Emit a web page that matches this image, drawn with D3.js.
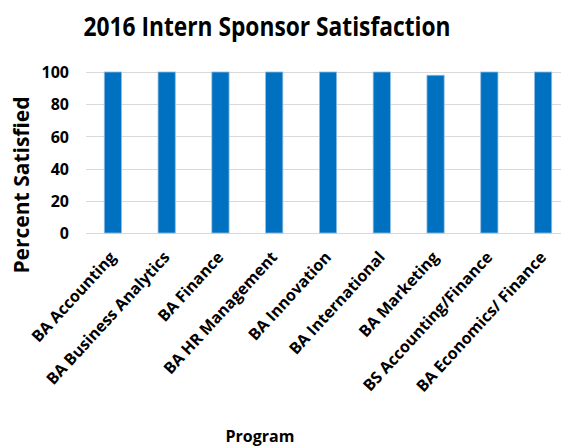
<!DOCTYPE html>
<html>
<head>
<meta charset="utf-8">
<script src="https://cdn.jsdelivr.net/npm/d3@7"></script>
<style>
  body { margin: 0; background: #fff; }
  svg { display: block; font-family: 'Open Sans', 'Liberation Sans', sans-serif; }
</style>
</head>
<body>
<div id="chart"></div>
<script>
var programs = ['BA Accounting', 'BA Business Analytics', 'BA Finance', 'BA HR Management',
    'BA Innovation', 'BA International', 'BA Marketing', 'BS Accounting/Finance', 'BA Economics/ Finance'];
var satisfied = [100, 100, 100, 100, 100, 100, 98, 100, 100];
var yTicks = [0, 20, 40, 60, 80, 100];

var width = 561, height = 447;
var margin = {left: 86, right: 0, top: 72, bottom: 214};

var svg = d3.select('#chart')
    .append('svg')
    .attr('width', width)
    .attr('height', height);

var x = d3.scaleBand()
    .domain(programs)
    .range([margin.left, 570])
    .paddingInner(0.68)
    .paddingOuter(0.34);

var y = d3.scaleLinear()
    .domain([0, 100])
    .range([233, 72]);

// gridlines
svg.append('g')
    .selectAll('line')
    .data(yTicks)
    .enter()
    .append('line')
    .attr('x1', margin.left)
    .attr('x2', width)
    .attr('y1', function(d) { return Math.round(y(d)) + 0.5; })
    .attr('y2', function(d) { return Math.round(y(d)) + 0.5; })
    .attr('stroke', '#d9d9d9')
    .attr('stroke-width', 1.2);

// bars
svg.append('g')
    .selectAll('rect')
    .data(programs)
    .enter()
    .append('rect')
    .attr('x', function(d) { return x(d); })
    .attr('y', function(d, i) { return y(satisfied[i]); })
    .attr('width', x.bandwidth())
    .attr('height', function(d, i) { return y(0) - y(satisfied[i]); })
    .attr('fill', '#0070c0')
    .attr('stroke', '#8fbde3')
    .attr('stroke-width', 0.8);

// y axis
var yAxis = d3.axisLeft(y)
    .tickValues(yTicks)
    .tickSize(0)
    .tickPadding(0);

svg.append('g')
    .attr('transform', 'translate(69,0)')
    .call(yAxis)
    .call(function(g) { g.select('.domain').remove(); })
    .selectAll('text')
    .attr('font-family', 'Open Sans, sans-serif')
    .attr('font-size', 16)
    .attr('font-weight', 'bold')
    .attr('fill', '#000')
    .attr('dy', '0.35em');

// x labels, rotated
svg.append('g')
    .selectAll('text')
    .data(programs)
    .enter()
    .append('text')
    .attr('transform', function(d) {
        return 'translate(' + (x(d) + x.bandwidth() / 2 + 4) + ',258) rotate(-47.5)';
    })
    .attr('text-anchor', 'end')
    .attr('font-size', 16)
    .attr('font-weight', 'bold')
    .attr('fill', '#000')
    .text(function(d) { return d; });

// title
svg.append('text')
    .attr('x', 267)
    .attr('y', 36)
    .attr('text-anchor', 'middle')
    .attr('font-size', 27)
    .attr('font-weight', 'bold')
    .attr('textLength', 367)
    .attr('lengthAdjust', 'spacingAndGlyphs')
    .text('2016 Intern Sponsor Satisfaction');

// axis titles
svg.append('text')
    .attr('transform', 'translate(29,185) rotate(-90)')
    .attr('text-anchor', 'middle')
    .attr('font-size', 21)
    .attr('font-weight', 'bold')
    .text('Percent Satisfied');

svg.append('text')
    .attr('x', 260)
    .attr('y', 442)
    .attr('text-anchor', 'middle')
    .attr('font-size', 16)
    .attr('font-weight', 'bold')
    .text('Program');
</script>
</body>
</html>
